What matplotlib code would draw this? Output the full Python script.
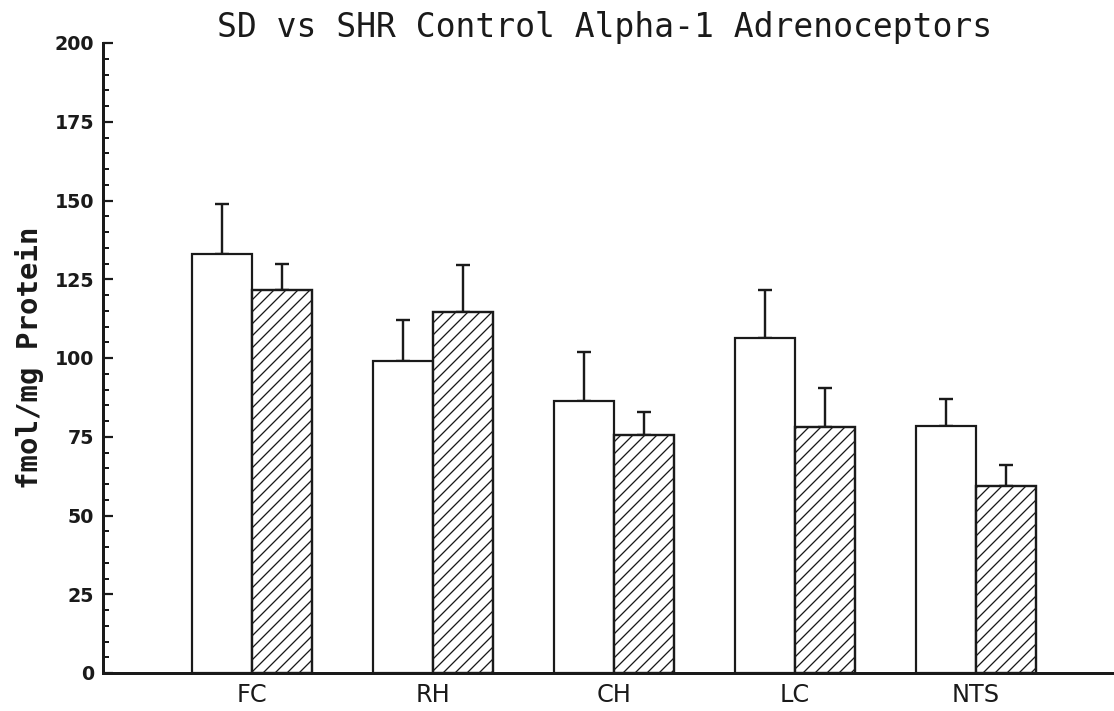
import matplotlib
matplotlib.use("Agg")
import matplotlib.pyplot as plt
import numpy as np
from matplotlib.ticker import MultipleLocator

regions = ["FC", "RH", "CH", "LC", "NTS"]
sd_means = [133, 99, 86.5, 106.5, 78.5]
sd_err = [16, 13, 15.5, 15, 8.5]
shr_means = [121.5, 114.5, 75.5, 78, 59.5]
shr_err = [8.5, 15, 7.5, 12.5, 6.5]
yticks = [0, 25, 50, 75, 100, 125, 150, 175, 200]

DPI = 72
fig = plt.figure(figsize=(1114 / DPI, 711 / DPI), dpi=DPI)
ax = fig.add_axes([103 / 1114, 1 - 673 / 711, 1 - 103 / 1114, (673 - 43) / 711])

plt.rcParams['hatch.linewidth'] = 1.3
x = np.arange(len(regions))
w = 0.33
ax.bar(x - w / 2, sd_means, w, color="white", edgecolor="#1a1a1a", linewidth=2.2, zorder=3)
ax.bar(x + w / 2, shr_means, w, color="white", edgecolor="#1a1a1a", linewidth=2.4,
       hatch="//", zorder=3)
ax.errorbar(x - w / 2, sd_means, yerr=[np.zeros(len(sd_err)), sd_err], fmt="none",
            ecolor="#1a1a1a", elinewidth=2.4, capsize=7, capthick=2.4, zorder=2)
ax.errorbar(x + w / 2, shr_means, yerr=[np.zeros(len(shr_err)), shr_err], fmt="none",
            ecolor="#1a1a1a", elinewidth=2.4, capsize=7, capthick=2.4, zorder=2)

ax.set_xlim(-0.823, 4.762)
ax.set_ylim(0, 200)
ax.set_yticks(yticks)
ax.set_yticklabels([str(t) for t in yticks], fontsize=19, fontweight="bold", color="#1a1a1a")
ax.yaxis.set_minor_locator(MultipleLocator(5))
ax.tick_params(axis="y", which="major", direction="in", length=10, width=2.2, pad=9, color="#1a1a1a")
ax.tick_params(axis="y", which="minor", direction="in", length=6, width=2, color="#1a1a1a")
ax.set_xticks(x)
ax.set_xticklabels(regions, fontsize=24, color="#1a1a1a")
ax.tick_params(axis="x", length=0, pad=10)

for s in ["top", "right"]:
    ax.spines[s].set_visible(False)
for s in ["left", "bottom"]:
    ax.spines[s].set_linewidth(3)
    ax.spines[s].set_color("#1a1a1a")

ax.set_ylabel("fmol/mg Protein", fontsize=29, fontweight="bold", family="DejaVu Sans Mono",
              color="#1a1a1a", labelpad=10)
fig.text(605 / 1114, 1 - 27 / 711, "SD vs SHR Control Alpha-1 Adrenoceptors",
         fontsize=33, family="DejaVu Sans Mono", ha="center", va="center", color="#1a1a1a")

fig.savefig("out.png", dpi=DPI)
